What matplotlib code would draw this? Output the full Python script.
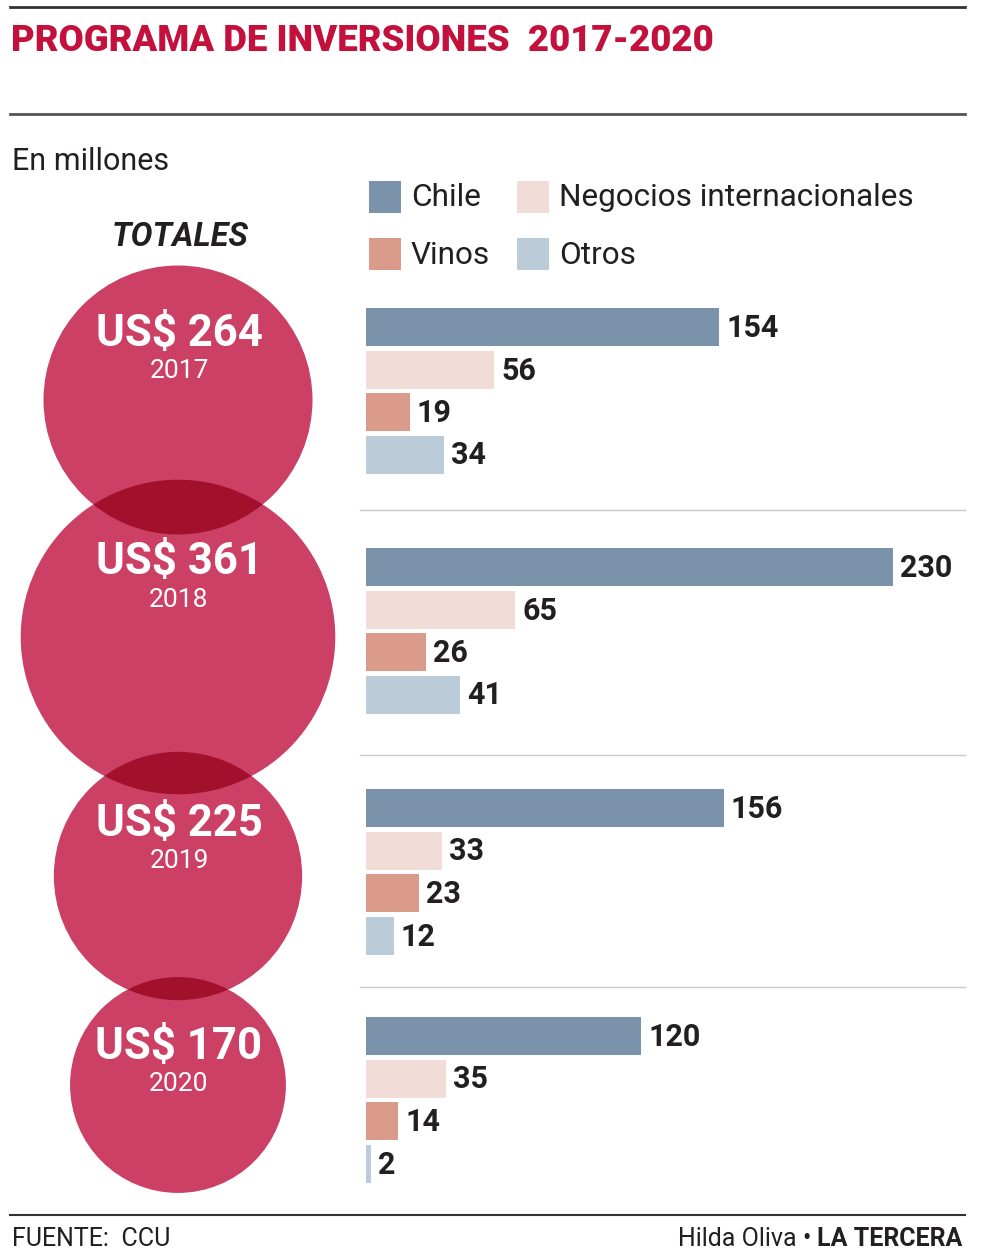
import numpy as np
import matplotlib
matplotlib.use('Agg')
import matplotlib.pyplot as plt
from matplotlib.patches import Circle, Rectangle

plt.rcParams['font.family'] = ['Roboto', 'DejaVu Sans']

# Data
years = ['2017', '2018', '2019', '2020']
totals = [264, 361, 225, 170]
series = ['Chile', 'Negocios internacionales', 'Vinos', 'Otros']
chile = [154, 230, 156, 120]
negocios = [56, 65, 33, 35]
vinos = [19, 26, 23, 14]
otros = [34, 41, 12, 2]

colors = ['#7a93aa', '#f2dcd7', '#db9b8b', '#bccbd8']
circ_col = '#cc4066'
lens_col = '#a3102b'
dark = '#231f20'
red_title = '#c3103c'

W, H = 996, 1258
fig = plt.figure(figsize=(W / 100, H / 100), dpi=100)
ax = fig.add_axes([0, 0, 1, 1])
ax.set_xlim(0, W)
ax.set_ylim(H, 0)
ax.axis('off')

# header / footer rules
ax.plot([10, 965], [7, 7], color='#333333', lw=2)
ax.plot([10, 965], [114, 114], color='#555555', lw=2)
ax.plot([10, 965], [1215, 1215], color='#333333', lw=1.5)

ax.text(11, 41, 'PROGRAMA DE INVERSIONES  2017-2020', color=red_title,
        fontsize=26.3, fontweight='black', va='center', ha='left')
ax.text(12, 161, 'En millones', color=dark, fontsize=22, va='center')
ax.text(180, 237, 'TOTALES', color=dark, fontsize=23.5, fontweight='bold',
        fontstyle='italic', ha='center', va='center')

# legend
leg_pos = [(369, 197), (517, 197), (369, 254), (517, 254)]
for (lx, ly), name, c in zip(leg_pos, series, colors):
    ax.add_patch(Rectangle((lx, ly - 16), 32, 32, color=c, lw=0))
    ax.text(lx + 42, ly + 1, name, color=dark, fontsize=22.7, va='center')

# circles, area proportional to total
r0 = 134.5
cy = [400, 637, 876, 1085]
radii = [r0 * np.sqrt(t / totals[0]) for t in totals]
circles = []
for y, r in zip(cy, radii):
    c = Circle((178, y), r, color=circ_col, lw=0)
    ax.add_patch(c)
    circles.append(c)
for i in range(len(circles) - 1):
    lens = Circle((178, cy[i + 1]), radii[i + 1], color=lens_col, lw=0)
    ax.add_patch(lens)
    lens.set_clip_path(circles[i])

big_y = [334, 562, 824, 1047]
small_y = [371, 600, 861, 1084]
for t, yr, by, sy in zip(totals, years, big_y, small_y):
    ax.text(179, by, f'US$ {t}', color='white', fontsize=31.5, fontweight='bold',
            ha='center', va='center')
    ax.text(179, sy, yr, color='white', fontsize=19, ha='center', va='center')

# separators between groups
for y in [510, 755, 987]:
    ax.plot([360, 965], [y, y], color='#c8c8c8', lw=1)

# bars
px_per_unit = 2.293
bx0, bx1 = 366, 966
axb = fig.add_axes([bx0 / W, 0, (bx1 - bx0) / W, 1])
axb.set_xlim(0, (bx1 - bx0) / px_per_unit)
axb.set_ylim(H, 0)
axb.axis('off')

group_top = [327, 567, 808, 1036]
step = 42.5
values = [chile, negocios, vinos, otros]
for g in range(len(years)):
    for s in range(len(series)):
        v = values[s][g]
        y = group_top[g] + s * step
        axb.barh(y, v, height=38, color=colors[s], lw=0)
        axb.annotate(str(v), (v, y + 1), xytext=(7, 0), textcoords='offset pixels',
                     ha='left', va='center', fontsize=22, fontweight='bold',
                     color=dark)

# footer
ax.text(12, 1239, 'FUENTE:  CCU', color=dark, fontsize=18, va='center')
brand = ax.text(962, 1239, 'LA TERCERA', color=dark, fontsize=18, fontweight='bold',
                va='center', ha='right')
fig.canvas.draw()
bb = brand.get_window_extent()
left = ax.transData.inverted().transform((bb.x0, bb.y0))[0]
ax.text(left - 5, 1239, 'Hilda Oliva •', color=dark, fontsize=18, va='center', ha='right')

fig.savefig('out.png', dpi=100)
